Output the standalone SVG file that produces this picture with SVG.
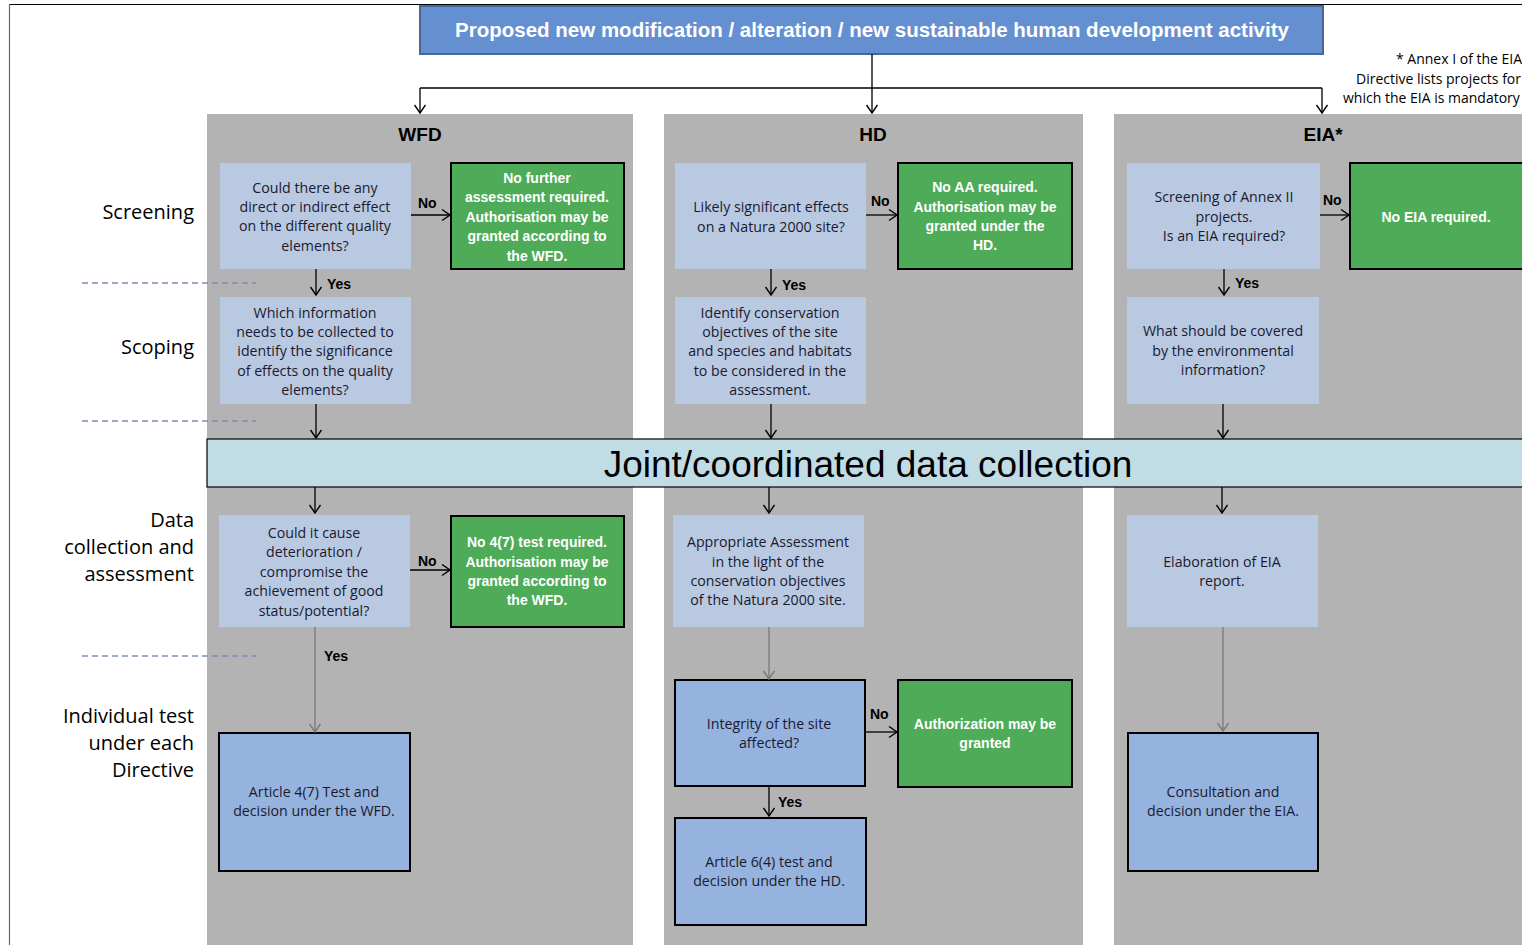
<svg xmlns="http://www.w3.org/2000/svg" width="1522" height="945" viewBox="0 0 1522 945">
<defs>
<style>
text{font-family:"Liberation Sans",Arial,sans-serif;}
.col{fill:#b3b3b3;}
.q{fill:#b9c9e2;}
.g{fill:#4eab58;stroke:#000;stroke-width:2;}
.b{fill:#95b3de;stroke:#000;stroke-width:2;}
.t{font-family:"Open Sans","Liberation Sans",sans-serif;font-size:14.2px;fill:#1a1a2e;text-anchor:middle;}
.tw{font-size:14px;fill:#fff;font-weight:bold;text-anchor:middle;}
.lbl{font-size:14px;font-weight:bold;fill:#000;}
.side{font-family:"Open Sans","Liberation Sans",sans-serif;font-size:20px;fill:#000;text-anchor:end;}
.hdr{font-size:19px;font-weight:bold;fill:#000;text-anchor:middle;}
.note{font-family:"Open Sans","Liberation Sans",sans-serif;font-size:14px;fill:#000;}
.c{stroke:#000;stroke-width:1.3;fill:none;marker-end:url(#ah);}
.cg{stroke:#7a7a7a;stroke-width:1.3;fill:none;marker-end:url(#ahg);}
.dash{stroke:#7f8db0;stroke-width:1.3;stroke-dasharray:6 4;fill:none;}
</style>
<marker id="ah" markerUnits="userSpaceOnUse" markerWidth="14" markerHeight="14" refX="10" refY="6" orient="auto"><path d="M2,0.5 L10,6 L2,11.5" fill="none" stroke="#000" stroke-width="1.4"/></marker>
<marker id="ahg" markerUnits="userSpaceOnUse" markerWidth="14" markerHeight="14" refX="10" refY="6" orient="auto"><path d="M2,0.5 L10,6 L2,11.5" fill="none" stroke="#7a7a7a" stroke-width="1.4"/></marker>
</defs>
<rect x="0" y="0" width="1522" height="945" fill="#fff"/>
<line x1="9" y1="4.5" x2="1522" y2="4.5" stroke="#000" stroke-width="1.2"/>
<line x1="9.5" y1="4" x2="9.5" y2="945" stroke="#666" stroke-width="1.2"/>

<g id="columns">
<rect class="col" x="207" y="114" width="426" height="831"/>
<rect class="col" x="664" y="114" width="419" height="831"/>
<rect class="col" x="1114" y="114" width="408" height="831"/>
<text class="hdr" x="420" y="141">WFD</text>
<text class="hdr" x="873" y="141">HD</text>
<text class="hdr" x="1323" y="141">EIA*</text>
</g>

<g id="note">
<text class="note" x="1396" y="64">* Annex I of the EIA</text>
<text class="note" x="1356" y="84">Directive lists projects for</text>
<text class="note" x="1343" y="103">which the EIA is mandatory</text>
</g>

<g id="stages">
<text class="side" x="194" y="219">Screening</text>
<text class="side" x="194" y="354">Scoping</text>
<text class="side" x="194" y="527">Data</text>
<text class="side" x="194" y="554">collection and</text>
<text class="side" x="194" y="581">assessment</text>
<text class="side" x="194" y="723">Individual test</text>
<text class="side" x="194" y="750">under each</text>
<text class="side" x="194" y="777">Directive</text>
<path class="dash" d="M82,283 H256 M82,421 H256 M82,656 H256"/>
</g>

<g id="top">
<rect x="420" y="6" width="903" height="48" fill="#6490d2" stroke="#45679b" stroke-width="2"/>
<text x="872" y="37" font-size="20.5" font-weight="bold" fill="#fff" text-anchor="middle">Proposed new modification / alteration / new sustainable human development activity</text>
</g>

<g id="joint">
<rect x="207" y="439" width="1320" height="48" fill="#c0dde6" stroke="#000" stroke-width="1.2"/>
<text x="868" y="477" font-size="37" fill="#000" text-anchor="middle">Joint/coordinated data collection</text>
</g>

<g id="wfd-q1"><rect class="q" x="220" y="163" width="191" height="106"/>
<text class="t" x="315" y="193">Could there be any</text><text class="t" x="315" y="212">direct or indirect effect</text><text class="t" x="315" y="231">on the different quality</text><text class="t" x="315" y="251">elements?</text></g>
<g id="wfd-g1"><rect class="g" x="451" y="163" width="173" height="106"/>
<text class="tw" x="537" y="183">No further</text><text class="tw" x="537" y="202">assessment required.</text><text class="tw" x="537" y="222">Authorisation may be</text><text class="tw" x="537" y="241">granted according to</text><text class="tw" x="537" y="261">the WFD.</text></g>
<g id="wfd-q2"><rect class="q" x="220" y="297" width="191" height="107"/>
<text class="t" x="315" y="318">Which information</text><text class="t" x="315" y="337">needs to be collected to</text><text class="t" x="315" y="356">identify the significance</text><text class="t" x="315" y="376">of effects on the quality</text><text class="t" x="315" y="395">elements?</text></g>
<g id="wfd-q3"><rect class="q" x="219" y="515" width="191" height="112"/>
<text class="t" x="314" y="538">Could it cause</text><text class="t" x="314" y="557">deterioration /</text><text class="t" x="314" y="577">compromise the</text><text class="t" x="314" y="596">achievement of good</text><text class="t" x="314" y="616">status/potential?</text></g>
<g id="wfd-g2"><rect class="g" x="451" y="516" width="173" height="111"/>
<text class="tw" x="537" y="547">No 4(7) test required.</text><text class="tw" x="537" y="567">Authorisation may be</text><text class="tw" x="537" y="586">granted according to</text><text class="tw" x="537" y="605">the WFD.</text></g>
<g id="wfd-b"><rect class="b" x="219" y="733" width="191" height="138"/>
<text class="t" x="314" y="797">Article 4(7) Test and</text><text class="t" x="314" y="816">decision under the WFD.</text></g>

<g id="hd-q1"><rect class="q" x="675" y="163" width="191" height="106"/>
<text class="t" x="771" y="212">Likely significant effects</text><text class="t" x="771" y="232">on a Natura 2000 site?</text></g>
<g id="hd-g1"><rect class="g" x="898" y="163" width="174" height="106"/>
<text class="tw" x="985" y="192">No AA required.</text><text class="tw" x="985" y="212">Authorisation may be</text><text class="tw" x="985" y="231">granted under the</text><text class="tw" x="985" y="250">HD.</text></g>
<g id="hd-q2"><rect class="q" x="675" y="297" width="191" height="107"/>
<text class="t" x="770" y="318">Identify conservation</text><text class="t" x="770" y="337">objectives of the site</text><text class="t" x="770" y="356">and species and habitats</text><text class="t" x="770" y="376">to be considered in the</text><text class="t" x="770" y="395">assessment.</text></g>
<g id="hd-q3"><rect class="q" x="673" y="515" width="191" height="112"/>
<text class="t" x="768" y="547">Appropriate Assessment</text><text class="t" x="768" y="567">in the light of the</text><text class="t" x="768" y="586">conservation objectives</text><text class="t" x="768" y="605">of the Natura 2000 site.</text></g>
<g id="hd-b1"><rect class="b" x="675" y="680" width="190" height="106"/>
<text class="t" x="769" y="729">Integrity of the site</text><text class="t" x="769" y="748">affected?</text></g>
<g id="hd-g2"><rect class="g" x="898" y="680" width="174" height="107"/>
<text class="tw" x="985" y="729">Authorization may be</text><text class="tw" x="985" y="748">granted</text></g>
<g id="hd-b2"><rect class="b" x="675" y="818" width="191" height="107"/>
<text class="t" x="769" y="867">Article 6(4) test and</text><text class="t" x="769" y="886">decision under the HD.</text></g>

<g id="eia-q1"><rect class="q" x="1127" y="163" width="193" height="106"/>
<text class="t" x="1224" y="202">Screening of Annex II</text><text class="t" x="1224" y="222">projects.</text><text class="t" x="1224" y="241">Is an EIA required?</text></g>
<g id="eia-g1"><rect class="g" x="1350" y="163" width="180" height="106"/>
<text class="tw" x="1436" y="222">No EIA required.</text></g>
<g id="eia-q2"><rect class="q" x="1127" y="297" width="192" height="107"/>
<text class="t" x="1223" y="336">What should be covered</text><text class="t" x="1223" y="356">by the environmental</text><text class="t" x="1223" y="375">information?</text></g>
<g id="eia-q3"><rect class="q" x="1127" y="515" width="191" height="112"/>
<text class="t" x="1222" y="567">Elaboration of EIA</text><text class="t" x="1222" y="586">report.</text></g>
<g id="eia-b"><rect class="b" x="1128" y="733" width="190" height="138"/>
<text class="t" x="1223" y="797">Consultation and</text><text class="t" x="1223" y="816">decision under the EIA.</text></g>

<g id="connectors">
<path d="M872,54 V88" stroke="#000" stroke-width="1.3" fill="none"/>
<path d="M420,88 H1322" stroke="#000" stroke-width="1.3" fill="none"/>
<path class="c" d="M420,88 V113"/>
<path class="c" d="M872,88 V113"/>
<path class="c" d="M1322,88 V113"/>
<path class="c" d="M411,215 H450"/>
<path class="c" d="M316,269 V295"/>
<path class="c" d="M316,404 V438"/>
<path class="c" d="M315,487 V513"/>
<path class="c" d="M410,570 H450"/>
<path class="cg" d="M315,627 V732"/>
<path class="c" d="M866,215 H897"/>
<path class="c" d="M771,269 V295"/>
<path class="c" d="M771,404 V438"/>
<path class="c" d="M769,487 V513"/>
<path class="cg" d="M769,627 V679"/>
<path class="c" d="M865,732 H897"/>
<path class="c" d="M769,786 V816"/>
<path class="c" d="M1320,215 H1349"/>
<path class="c" d="M1224,269 V295"/>
<path class="c" d="M1223,404 V438"/>
<path class="c" d="M1222,487 V513"/>
<path class="cg" d="M1223,627 V731"/>
<text class="lbl" x="418" y="208">No</text>
<text class="lbl" x="327" y="289">Yes</text>
<text class="lbl" x="418" y="566">No</text>
<text class="lbl" x="324" y="661">Yes</text>
<text class="lbl" x="871" y="206">No</text>
<text class="lbl" x="782" y="290">Yes</text>
<text class="lbl" x="870" y="719">No</text>
<text class="lbl" x="778" y="807">Yes</text>
<text class="lbl" x="1323" y="205">No</text>
<text class="lbl" x="1235" y="288">Yes</text>
</g>
</svg>
